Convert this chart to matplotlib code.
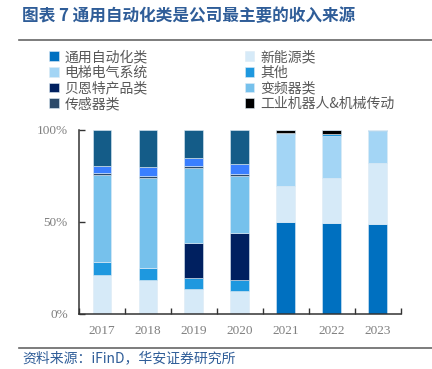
import numpy as np
import matplotlib
matplotlib.use("Agg")
import matplotlib.pyplot as plt
from matplotlib.lines import Line2D

plt.rcParams['font.family'] = ['Noto Sans CJK SC', 'DejaVu Sans']

years = ["2017", "2018", "2019", "2020", "2021", "2022", "2023"]

# shares in %, stacked bottom -> top
tongyong = [0, 0, 0, 0, 49.8, 49.5, 49.1]
xinnengyuan = [21.2, 18.3, 13.4, 12.5, 20.0, 24.6, 33.0]
dianti = [0, 0, 0, 0, 27.9, 22.4, 17.4]
qita = [7.1, 6.9, 6.3, 6.0, 0.5, 1.1, 0.5]
beien = [0, 0, 19.1, 25.7, 0, 0, 0]
bianpin = [47.2, 48.9, 40.4, 31.0, 0, 0, 0]
chuangan = [1.0, 0.9, 1.3, 0.8, 0, 0, 0]
unlabeled_a = [3.9, 4.7, 4.1, 5.3, 0, 0, 0]
jiqiren = [0, 0, 0, 0, 1.8, 2.4, 0]
unlabeled_b = [19.6, 20.3, 15.4, 18.7, 0, 0, 0]

series = [
    ("通用自动化类", tongyong, "#0070C0"),
    ("新能源类", xinnengyuan, "#D6EAF8"),
    ("电梯电气系统", dianti, "#A3D5F5"),
    ("其他", qita, "#1E98DF"),
    ("贝恩特产品类", beien, "#002060"),
    ("变频器类", bianpin, "#76C1EC"),
    ("传感器类", chuangan, "#2B4A6A"),
    (None, unlabeled_a, "#3A7FFF"),
    ("工业机器人&机械传动", jiqiren, "#000000"),
    (None, unlabeled_b, "#145C88"),
]

fig = plt.figure(figsize=(4.32, 3.69), dpi=100)
ax = fig.add_axes([79 / 432, 1 - 314 / 369, 321.7 / 432, 184 / 369])

x = np.arange(len(years))
bottom = np.zeros(len(years))
handles = {}
for name, vals, col in series:
    vals = np.array(vals, dtype=float)
    b = ax.bar(x, vals, 0.41, bottom=bottom, color=col, edgecolor="#DDEBF5", linewidth=0.4)
    bottom += vals
    if name:
        handles[name] = b

ax.set_xlim(-0.5, len(years) - 0.5)
ax.set_ylim(0, 100)
ax.set_yticks([0, 50, 100])
ax.set_yticklabels(["0%", "50%", "100%"])
ax.set_xticks(x)
ax.set_xticklabels(years)
ax.set_xticks(np.arange(-0.5, len(years)), minor=True)
ax.tick_params(axis="x", which="major", length=0, pad=8)
ax.tick_params(axis="x", which="minor", direction="in", length=4, width=1, color="#333333")
ax.tick_params(axis="y", direction="in", length=4, width=1, color="#333333", pad=8)
for lab in ax.get_xticklabels() + ax.get_yticklabels():
    lab.set_fontfamily("Liberation Serif")
    lab.set_fontsize(9.5)
    lab.set_color("#7F7F7F")
for s in ["top", "right"]:
    ax.spines[s].set_visible(False)
for s in ["left", "bottom"]:
    ax.spines[s].set_color("#333333")
    ax.spines[s].set_linewidth(1.1)

order = ["通用自动化类", "电梯电气系统", "贝恩特产品类", "传感器类",
         "新能源类", "其他", "变频器类", "工业机器人&机械传动"]
leg = fig.legend([handles[n] for n in order], order, ncol=2, loc="upper left",
                 bbox_to_anchor=(49 / 432, 1 - 50 / 369), frameon=False,
                 fontsize=10, handlelength=0.7, handleheight=0.7, handletextpad=0.4,
                 columnspacing=7.0, labelspacing=0.12, borderpad=0, borderaxespad=0)
for t in leg.get_texts():
    t.set_color("#595959")

fig.text(22 / 432, 1 - 16 / 369, "图表 7 通用自动化类是公司最主要的收入来源", fontsize=12,
         fontweight="bold", color="#2F5D98", va="center", ha="left")
fig.text(22 / 432, 1 - 358 / 369, "资料来源：iFinD，华安证券研究所", fontsize=10,
         color="#2F5D98", va="center", ha="left")

fig.add_artist(Line2D([19 / 432, 1], [1 - 40 / 369, 1 - 40 / 369], color="#666666", lw=1.2))
fig.add_artist(Line2D([19 / 432, 1], [1 - 348 / 369, 1 - 348 / 369], color="#666666", lw=1.2))

fig.savefig("out.png", dpi=100)
